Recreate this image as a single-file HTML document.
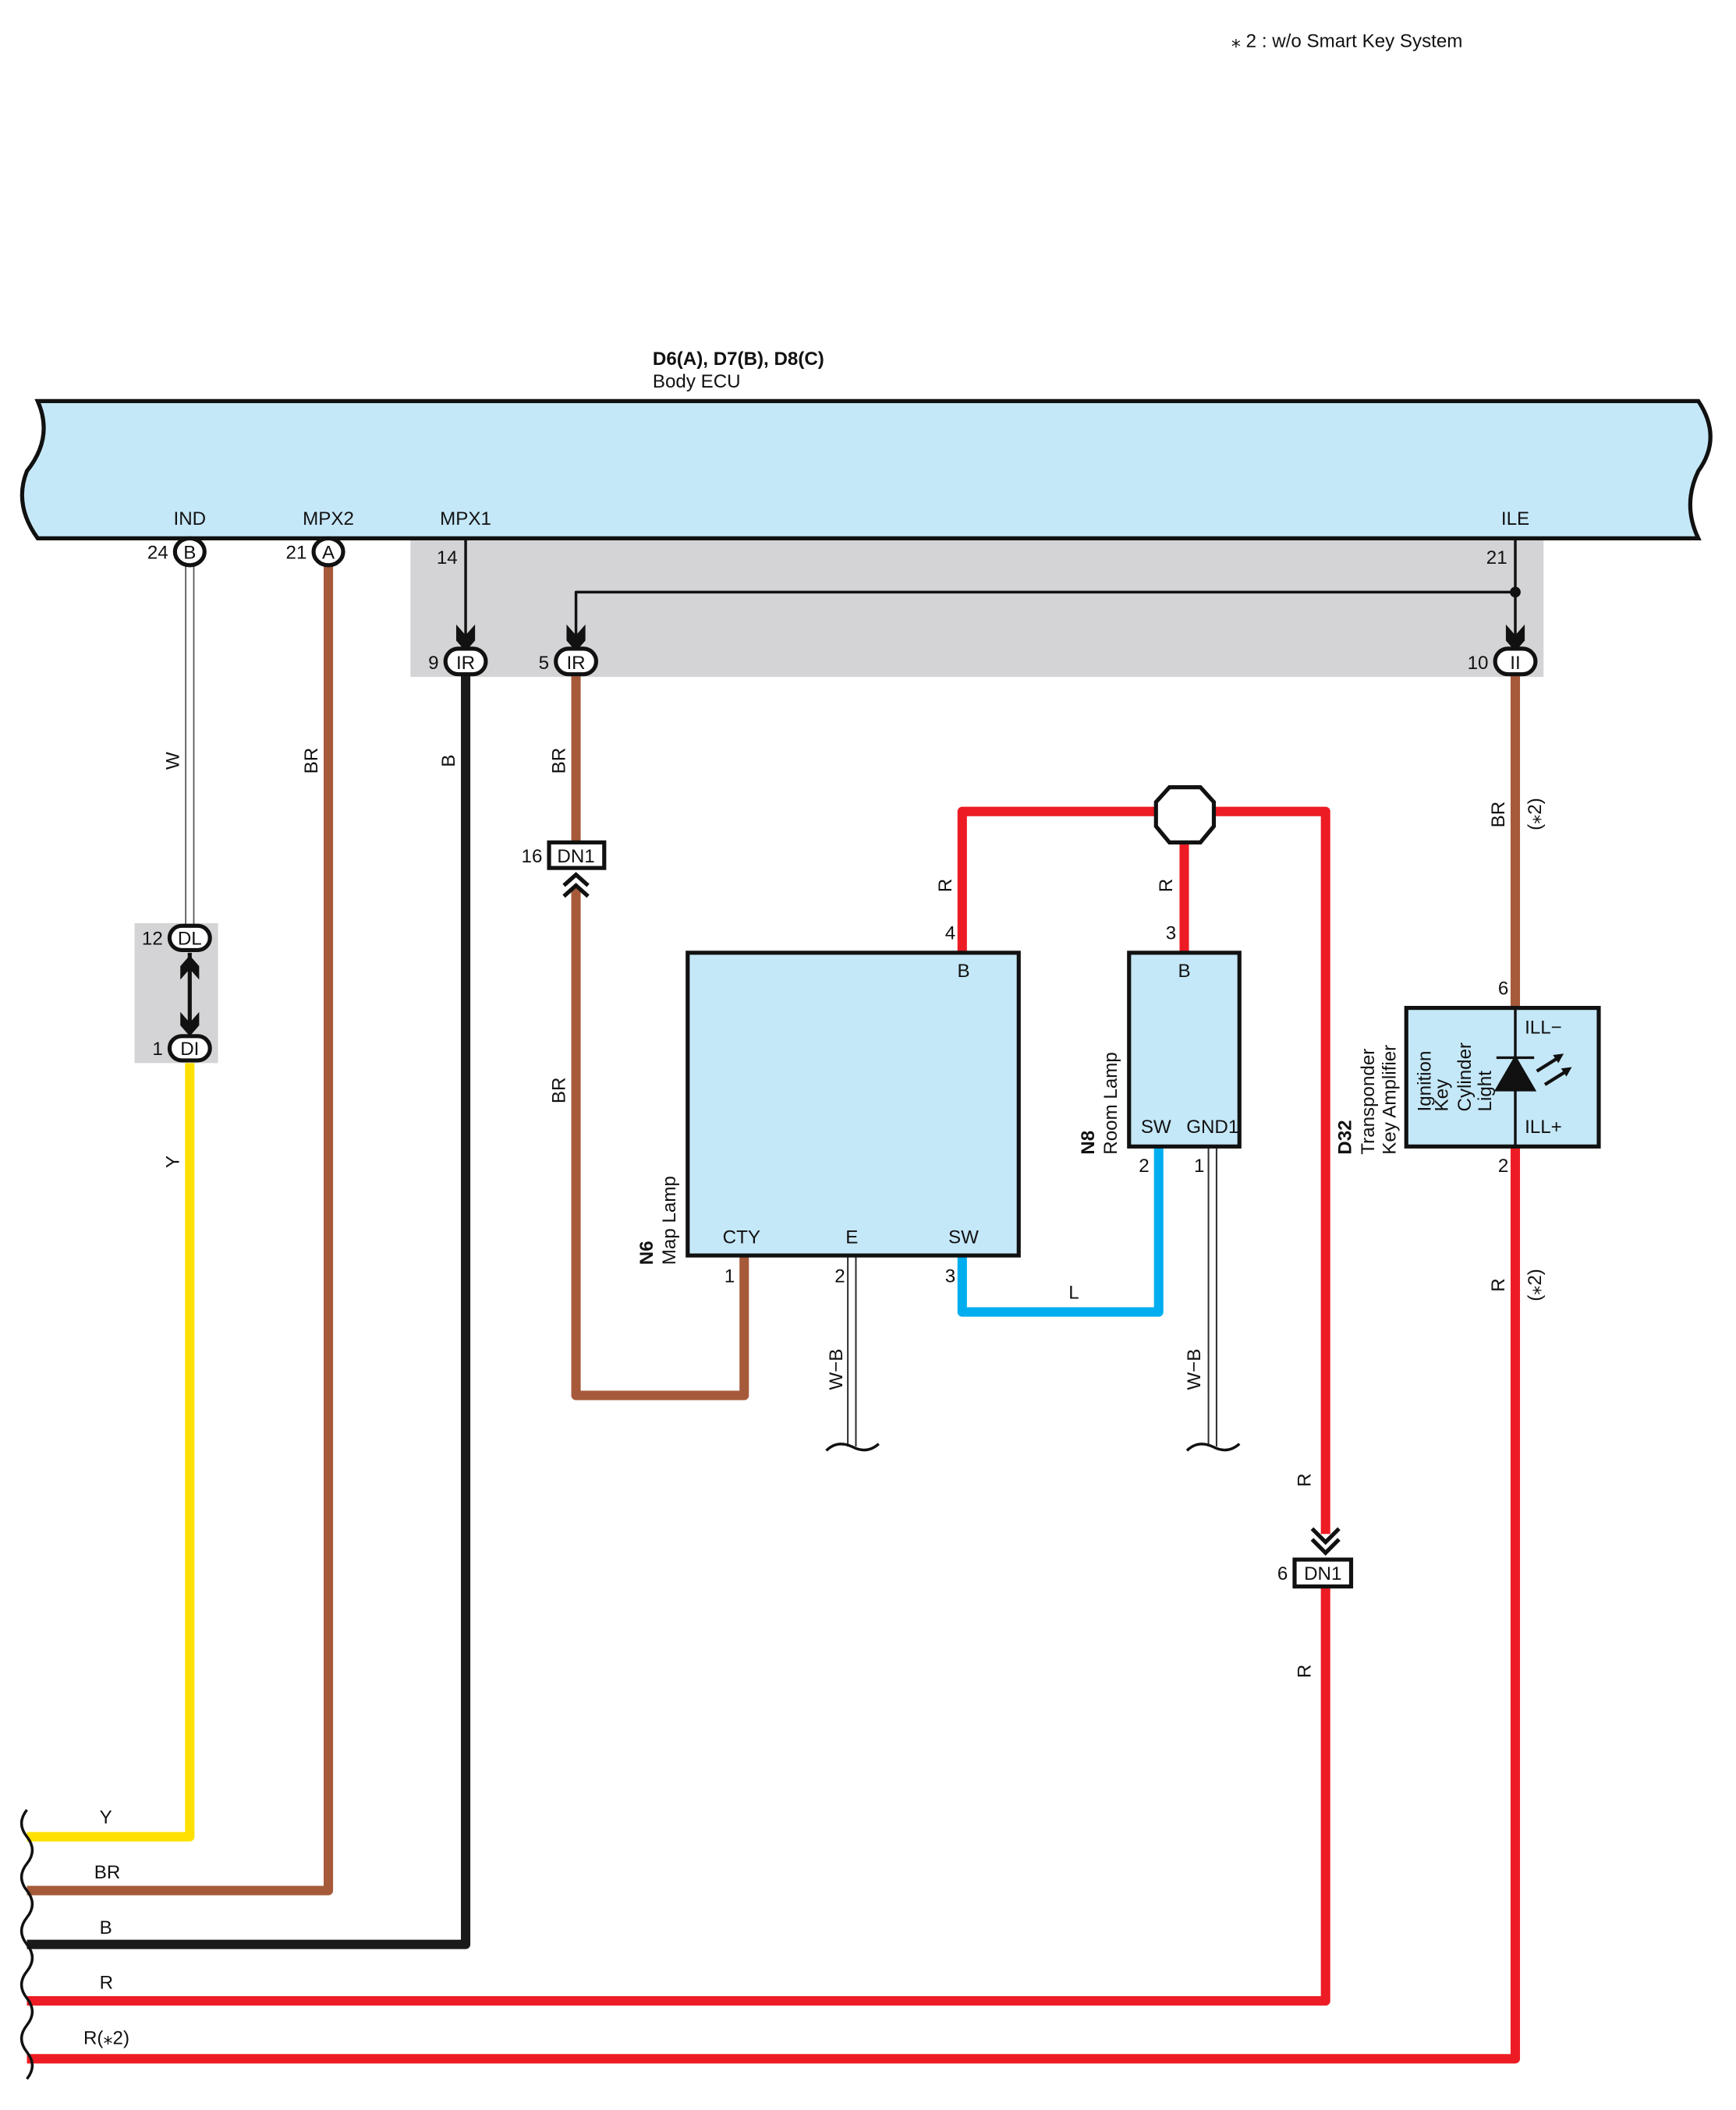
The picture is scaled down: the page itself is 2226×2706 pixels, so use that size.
<!DOCTYPE html>
<html><head><meta charset="utf-8"><style>html,body{margin:0;padding:0;background:#fff}svg{display:block}text{font-family:"Liberation Sans",sans-serif;font-size:14px;fill:#111}</style></head>
<body>
<svg width="2226" height="2706" viewBox="0 0 1290 1568" xmlns="http://www.w3.org/2000/svg">
<text x="915" y="35">⁎ 2 : w/o Smart Key System</text>
<text x="485" y="271" font-weight="bold">D6(A), D7(B), D8(C)</text>
<text x="485" y="288">Body ECU</text>
<rect x="305" y="400" width="842" height="103" fill="#d4d4d6"/>
<rect x="100" y="686" width="62" height="104" fill="#d4d4d6"/>
<path d="M28,298 L1262,298 Q1280,325 1262,350 Q1250,375 1262,400 L28,400 Q10,375 20,350 Q40,325 28,298 Z" fill="#c5e8f8" stroke="#111" stroke-width="3"/>
<text x="141" y="390" text-anchor="middle">IND</text>
<text x="244" y="390" text-anchor="middle">MPX2</text>
<text x="346" y="390" text-anchor="middle">MPX1</text>
<text x="1126" y="390" text-anchor="middle">ILE</text>
<g fill="none" stroke-linejoin="round">
<path d="M244,420 V1405 H20" stroke="#a65a3a" stroke-width="7"/>
<path d="M346,500 V1445 H20" stroke="#1a1a1a" stroke-width="7"/>
<path d="M428,500 V626" stroke="#a65a3a" stroke-width="7"/>
<path d="M428,660 V1037 H553 V933" stroke="#a65a3a" stroke-width="7"/>
<path d="M141,790 V1365 H20" stroke="#ffe000" stroke-width="7"/>
<path d="M715,708 V603 H985 V1140" stroke="#ed1c24" stroke-width="7"/>
<path d="M985,1179 V1487 H20" stroke="#ed1c24" stroke-width="7"/>
<path d="M880,603 V708" stroke="#ed1c24" stroke-width="7"/>
<path d="M715,933 V975 H861 V852" stroke="#00aeef" stroke-width="7"/>
<path d="M1126,500 V749" stroke="#a65a3a" stroke-width="7"/>
<path d="M1126,852 V1530 H20" stroke="#ed1c24" stroke-width="7"/>
<path d="M138,420 V688 M144,420 V688" stroke="#555" stroke-width="1"/>
<path d="M630,933 V1075 M636,933 V1075 M898,852 V1075 M904,852 V1075" stroke="#333" stroke-width="1.2"/>
<path d="M614,1078 q8,-8 19,-3 q11,6 20,-2 M882,1078 q8,-8 19,-3 q11,6 20,-2" stroke="#111" stroke-width="2"/>
<path d="M20,1345 q-8,10 0,20 q8,10 0,20 q-8,10 0,20 q8,10 0,20 q-8,10 0,20 q8,10 0,20 q-8,10 0,20 q8,10 0,20 q-8,10 0,20 q8,10 0,20" stroke="#111" stroke-width="2"/>
<path d="M346,400 V475 M1126,400 V475 M1126,440 H428 V475" stroke="#111" stroke-width="2"/>
<path d="M141,708 V768" stroke="#111" stroke-width="3"/>
</g>
<circle cx="1126" cy="440" r="4" fill="#111"/>
<g fill="#111">
<path d="M339,464 L346,472 L353,464 L353,476 L346,484 L339,476 Z"/>
<path d="M421,464 L428,472 L435,464 L435,476 L428,484 L421,476 Z"/>
<path d="M1119,464 L1126,472 L1133,464 L1133,476 L1126,484 L1119,476 Z"/>
<path d="M134,718 L141,710 L148,718 L148,728 L141,720 L134,728 Z"/>
<path d="M134,752 L141,760 L148,752 L148,762 L141,770 L134,762 Z"/>
</g>
<g fill="none" stroke="#111" stroke-width="3">
<path d="M419,658 L428,650 L437,658 M419,666 L428,658 L437,666"/>
<path d="M975,1136 L985,1146 L995,1136 M975,1144 L985,1154 L995,1144"/>
</g>
<g stroke="#111" stroke-width="3" fill="#fff">
<ellipse cx="141" cy="410" rx="11" ry="10"/>
<ellipse cx="244" cy="410" rx="11" ry="10"/>
<rect x="331" y="482" width="30" height="19" rx="9.5"/>
<rect x="413" y="482" width="30" height="19" rx="9.5"/>
<rect x="1111" y="482" width="30" height="19" rx="9.5"/>
<rect x="126" y="688" width="30" height="18" rx="9"/>
<rect x="126" y="770" width="30" height="18" rx="9"/>
<rect x="408" y="626" width="41" height="19"/>
<rect x="962" y="1159" width="42" height="20"/>
<path d="M869,585 L892,585 L902,596 L902,614 L892,626 L869,626 L859,614 L859,596 Z"/>
</g>
<rect x="511" y="708" width="246" height="225" fill="#c5e8f8" stroke="#111" stroke-width="3"/>
<rect x="839" y="708" width="82" height="144" fill="#c5e8f8" stroke="#111" stroke-width="3"/>
<rect x="1045" y="749" width="143" height="103" fill="#c5e8f8" stroke="#111" stroke-width="3"/>
<g text-anchor="middle">
<text x="141" y="415">B</text><text x="244" y="415">A</text>
<text x="346" y="497">IR</text><text x="428" y="497">IR</text><text x="1126" y="497">II</text>
<text x="141" y="702">DL</text><text x="141" y="784">DI</text>
<text x="428" y="641">DN1</text><text x="983" y="1174">DN1</text>
</g>
<g text-anchor="end">
<text x="125" y="415">24</text><text x="228" y="415">21</text>
<text x="340" y="419">14</text><text x="1120" y="419">21</text>
<text x="326" y="497">9</text><text x="408" y="497">5</text><text x="1106" y="497">10</text>
<text x="121" y="702">12</text><text x="121" y="784">1</text>
<text x="403" y="641">16</text><text x="957" y="1174">6</text>
<text x="710" y="698">4</text><text x="874" y="698">3</text><text x="1121" y="739">6</text>
<text x="546" y="953">1</text><text x="628" y="953">2</text><text x="710" y="953">3</text>
<text x="854" y="871">2</text><text x="895" y="871">1</text><text x="1121" y="871">2</text>
</g>
<g text-anchor="middle"><text x="716" y="726">B</text><text x="551" y="924">CTY</text><text x="633" y="924">E</text><text x="716" y="924">SW</text>
<text x="880" y="726">B</text><text x="859" y="842">SW</text><text x="901" y="842">GND1</text>
<text x="798" y="965">L</text></g>
<path d="M1126,749 V852" stroke="#111" stroke-width="2"/>
<path d="M1112,810 L1140,810 L1126,786 Z M1112,786 H1140" fill="#111" stroke="#111" stroke-width="2"/>
<path d="M1142,796 L1158,786 M1148,806 L1164,796" stroke="#111" stroke-width="2.5"/>
<path d="M1162,783 l-8,1 l4,6 Z M1168,793 l-8,1 l4,6 Z" fill="#111"/>
<text x="1133" y="768">ILL−</text><text x="1133" y="842">ILL+</text>
<g>
<text transform="translate(133,572) rotate(-90)">W</text>
<text transform="translate(236,575) rotate(-90)">BR</text>
<text transform="translate(338,570) rotate(-90)">B</text>
<text transform="translate(420,575) rotate(-90)">BR</text>
<text transform="translate(420,820) rotate(-90)">BR</text>
<text transform="translate(133,868) rotate(-90)">Y</text>
<text transform="translate(707,663) rotate(-90)">R</text>
<text transform="translate(871,663) rotate(-90)">R</text>
<text transform="translate(1118,615) rotate(-90)">BR</text>
<text transform="translate(1145,617) rotate(-90)">(⁎2)</text>
<text transform="translate(1118,960) rotate(-90)">R</text>
<text transform="translate(1145,967) rotate(-90)">(⁎2)</text>
<text transform="translate(974,1105) rotate(-90)">R</text>
<text transform="translate(974,1247) rotate(-90)">R</text>
<text transform="translate(626,1033) rotate(-90)">W−B</text>
<text transform="translate(892,1033) rotate(-90)">W−B</text>
<text transform="translate(485,940) rotate(-90)" font-weight="bold">N6</text>
<text transform="translate(502,940) rotate(-90)">Map Lamp</text>
<text transform="translate(813,858) rotate(-90)" font-weight="bold">N8</text>
<text transform="translate(830,858) rotate(-90)">Room Lamp</text>
<text transform="translate(1004,858) rotate(-90)" font-weight="bold">D32</text>
<text transform="translate(1021,858) rotate(-90)">Transponder</text>
<text transform="translate(1037,858) rotate(-90)">Key Amplifier</text>
<text transform="translate(1063,826) rotate(-90)">Ignition</text>
<text transform="translate(1076,826) rotate(-90)">Key</text>
<text transform="translate(1093,826) rotate(-90)">Cylinder</text>
<text transform="translate(1108,826) rotate(-90)">Light</text>
</g>
<text x="74" y="1355">Y</text><text x="70" y="1396">BR</text><text x="74" y="1437">B</text><text x="74" y="1478">R</text><text x="62" y="1519">R(⁎2)</text>
</svg>
</body></html>
